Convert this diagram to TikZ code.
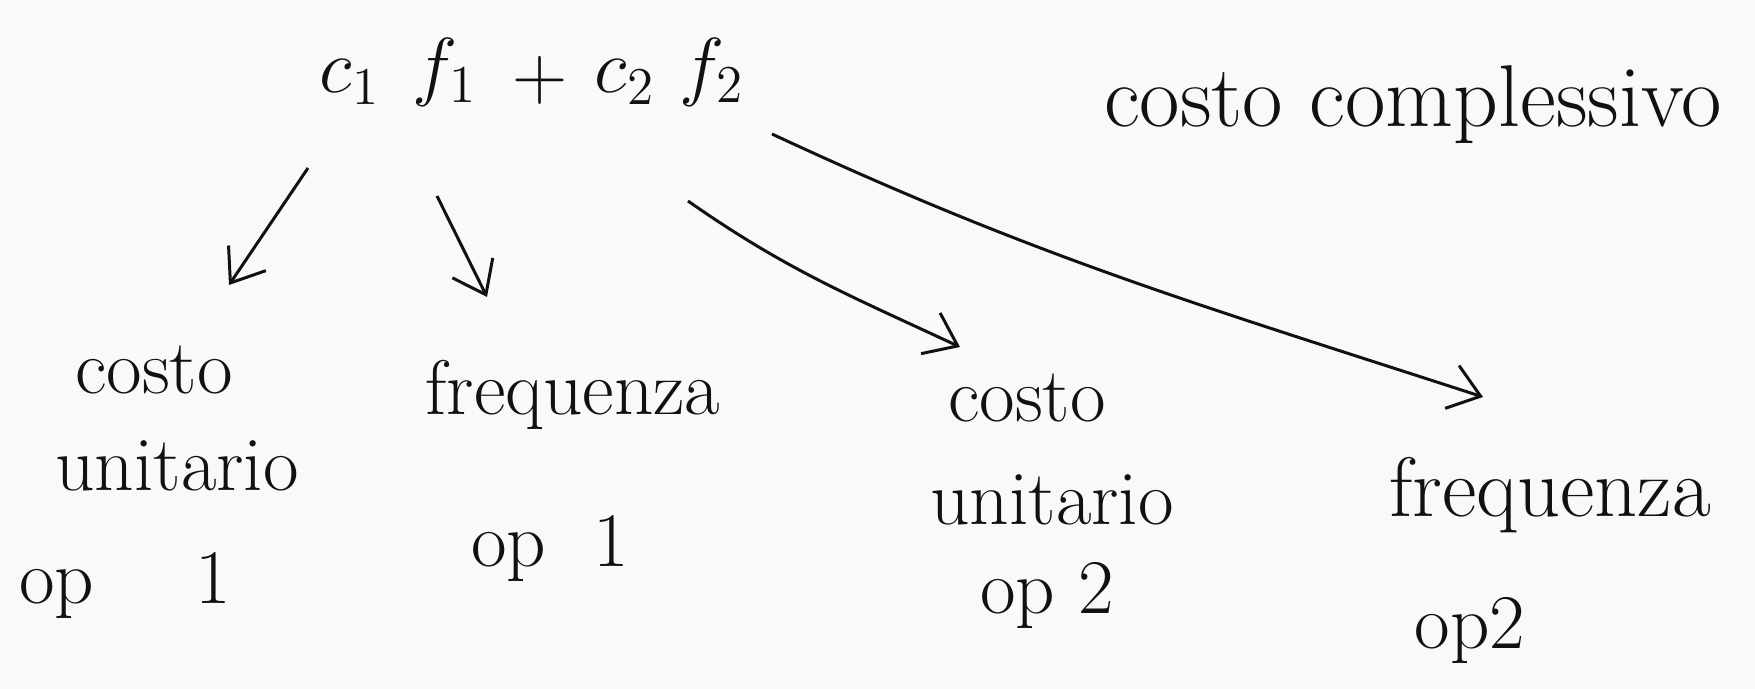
\documentclass[tikz,border=0pt]{standalone}
\usepackage{amsmath}
\usepackage{graphicx}
\usepackage{xcolor}
\usetikzlibrary{calc,arrows.meta,positioning}
\definecolor{inkc}{HTML}{111111}
\definecolor{paperc}{HTML}{F9F9F9}
\newcommand{\symbig}[1]{\scalebox{2.1}{$#1$}}
\tikzset{
  ar/.style={-{Straight Barb[length=6mm,width=9mm]},line width=1.7pt,inkc},
  lbl/.style={inkc,inner sep=1pt,font=\fontsize{44}{50}\selectfont},
  sym/.style={inkc,inner sep=1pt,font=\huge}
}

\begin{document}
\begin{tikzpicture}[x=0.02cm,y=-0.02cm]
\fill[paperc] (0,0) rectangle (1755,689);
\useasboundingbox (0,0) rectangle (1755,689);
% formula
\node[sym] (c1) at (350,82) {\symbig{c_1}};
\node[sym] (f1) at (445,72) {\symbig{f_1}};
\node[sym] (pl) at (540,80) {\symbig{+}};
\node[sym] (c2) at (625,82) {\symbig{c_2}};
\node[sym] (f2) at (712,72) {\symbig{f_2}};
\node[lbl,font=\fontsize{50}{56}\selectfont] (tot) at (1413,105) {costo complessivo};
% first term
\node[lbl] (cu1) at (154,370) {costo};
\node[lbl] (un1) at (177,466) {unitario};
\node[lbl] (op1) at (125,585) {op\quad\ 1};
\node[lbl] (fr1) at (573,395) {frequenza};
\node[lbl] (op1b) at (550,548) {op\ \ 1};
% second term
\node[lbl] (cu2) at (1027,398) {costo};
\node[lbl] (un2) at (1052,500) {unitario};
\node[lbl] (op2) at (1047,595) {op 2};
\node[lbl,font=\fontsize{48}{54}\selectfont] (fr2) at (1550,495) {frequenza};
\node[lbl] (op2b) at (1470,630) {op2};
% arrows
\draw[ar] ($(c1)+(-42,86)$) -- ($(cu1)+(75,-85)$);
\draw[ar] ($(f1)+(-8,124)$) -- ($(fr1)+(-86,-98)$);
\draw[ar] ($(c2)+(63,119)$) to[out=-35,in=155] ($(cu2)+(-67,-51)$);
\draw[ar] ($(f2)+(60,62)$) to[out=-25,in=162] ($(fr2)+(-67,-98)$);
\end{tikzpicture}
\end{document}
